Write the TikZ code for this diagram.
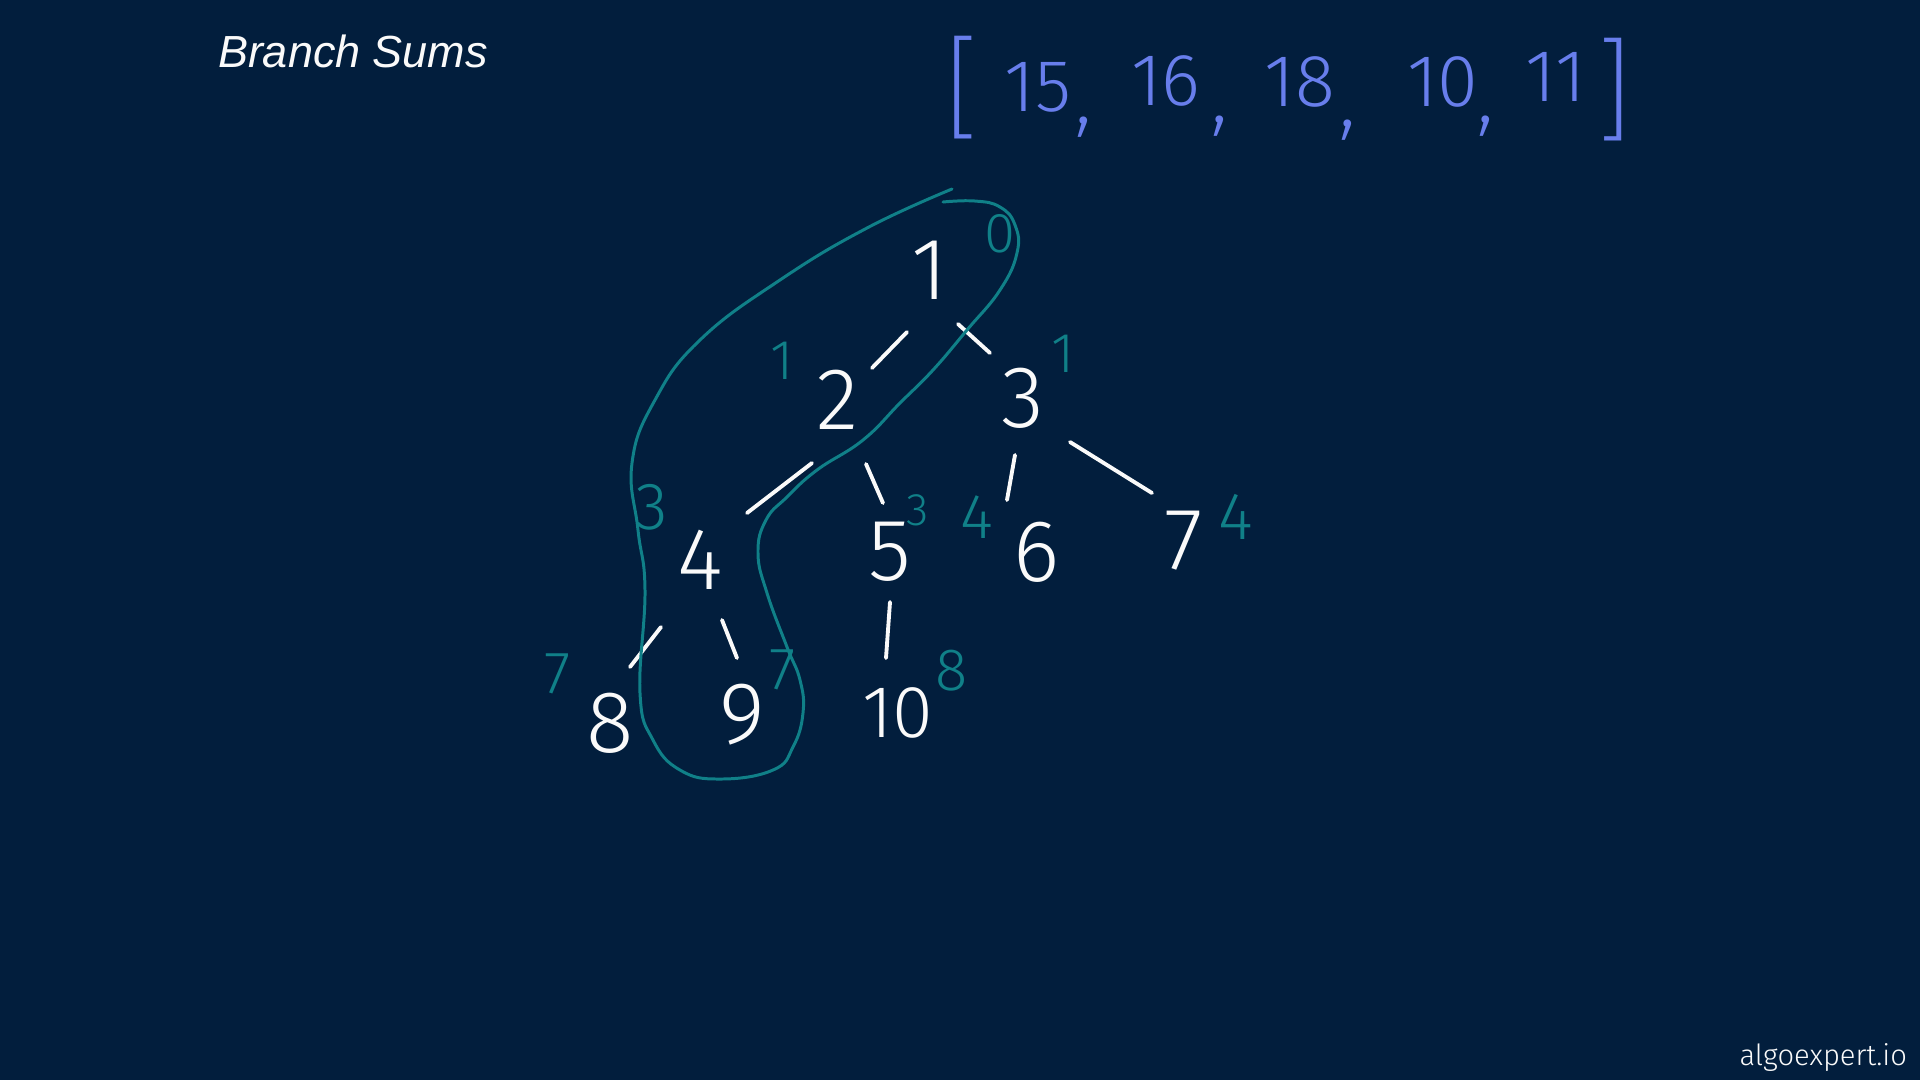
\documentclass[tikz,border=0pt]{standalone}
\usepackage{fontspec}
\setmainfont{Liberation Sans}
\IfFontExistsTF{Fira Sans Light}{\newfontfamily\handL{Fira Sans Light}[Numbers=Proportional]}{\newfontfamily\handL{Fira Sans}[Numbers=Proportional]}
\IfFontExistsTF{Fira Sans ExtraLight}{\newfontfamily\handX{Fira Sans ExtraLight}[Numbers=Proportional]}{\newfontfamily\handX{Fira Sans}[Numbers=Proportional]}
\definecolor{bgnavy}{RGB}{2,30,61}
\definecolor{tealink}{RGB}{16,128,136}
\definecolor{blueink}{RGB}{104,126,236}
\definecolor{whiteink}{RGB}{250,250,250}
\begin{document}
\begin{tikzpicture}[x=0.1mm,y=-0.1mm,
  every node/.style={inner sep=0pt,outer sep=0pt},
  treenum/.style={text=whiteink,font={\handL\fontsize{25pt}{25pt}\selectfont}},
  sumnum/.style={text=tealink,font={\handL\fontsize{16pt}{16pt}\selectfont}},
  listnum/.style={text=blueink,font={\handL\fontsize{21pt}{21pt}\selectfont}},
  listcomma/.style={text=blueink,font={\handX\fontsize{27pt}{27pt}\selectfont}},
  brack/.style={text=blueink,font={\handX\fontsize{32pt}{32pt}\selectfont}},
  edge/.style={draw=whiteink,line width=1.1pt,line cap=round},
  pathloop/.style={draw=tealink,line width=0.85pt,line cap=round,line join=round}]
\fill[bgnavy] (0,0) rectangle (1920,1080);
\useasboundingbox (0,0) rectangle (1920,1080);

% title and logo
\node[anchor=base west,text=whiteink,font={\itshape\fontsize{12.8pt}{12.8pt}\selectfont}] (title) at (218,67) {Branch Sums};
\node[anchor=base east,text=whiteink,font={\handL\fontsize{8.3pt}{8.3pt}\selectfont}] (logo) at (1907,1065) {algoexpert.io};

% result list
\node[brack] (lb) at (962,88) {[};
\node[brack] (rb) at (1614,90) {]};
\node[listnum] (s1) at (1038,87) {15};
\node[listcomma] (c1) at (1084,127) {,};
\node[listnum] (s2) at (1166,81) {16};
\node[listcomma] (c2) at (1220,126) {,};
\node[listnum] (s3) at (1300,82) {18};
\node[listcomma] (c3) at (1348,130) {,};
\node[listnum] (s4) at (1443,82) {10};
\node[listcomma] (c4) at (1486,126) {,};
\node[listnum] (s5) at (1556,77) {11};

% tree nodes
\node[treenum] (n1) at (930,270) {1};
\node[treenum] (n2) at (838,400) {2};
\node[treenum] (n3) at (1023,398) {3};
\node[treenum] (n4) at (700,560) {4};
\node[treenum] (n5) at (890,552) {5};
\node[treenum] (n6) at (1037,552) {6};
\node[treenum] (n7) at (1184,541) {7};
\node[treenum] (n8) at (610,723) {8};
\node[treenum] (n9) at (742,715) {9};
\node[treenum,font={\handL\fontsize{21pt}{21pt}\selectfont}] (n10) at (898,713) {10};

% edges
\draw[edge] ([shift={(-23,62)}]n1.center) -- ([shift={(34,-32)}]n2.center);
\draw[edge] ([shift={(28,54)}]n1.center) -- ([shift={(-33,-45)}]n3.center);
\draw[edge] ([shift={(-26,63)}]n2.center) -- ([shift={(47,-47)}]n4.center);
\draw[edge] ([shift={(28,64)}]n2.center) -- ([shift={(-7,-49)}]n5.center);
\draw[edge] ([shift={(-8,57)}]n3.center) -- ([shift={(-30,-52)}]n6.center);
\draw[edge] ([shift={(47,44)}]n3.center) -- ([shift={(-32,-48)}]n7.center);
\draw[edge] ([shift={(-39,67)}]n4.center) -- ([shift={(20,-56)}]n8.center);
\draw[edge] ([shift={(22,60)}]n4.center) -- ([shift={(-5,-57)}]n9.center);
\draw[edge] ([shift={(0,50)}]n5.center) -- ([shift={(-12,-55)}]n10.center);

% running sums
\node[sumnum] (r1) at (1000,234) {0};
\node[sumnum] (r2) at (782,361) {1};
\node[sumnum] (r3) at (1063,354) {1};
\node[sumnum,font={\handL\fontsize{19pt}{19pt}\selectfont}] (r4) at (652,507) {3};
\node[sumnum,font={\handL\fontsize{13pt}{13pt}\selectfont}] (r5) at (918,510) {3};
\node[sumnum,font={\handL\fontsize{18pt}{18pt}\selectfont}] (r6) at (977,517) {4};
\node[sumnum,font={\handL\fontsize{19pt}{19pt}\selectfont}] (r7) at (1236,517) {4};
\node[sumnum,font={\handL\fontsize{17pt}{17pt}\selectfont}] (r8) at (558,674) {7};
\node[sumnum,font={\handL\fontsize{17pt}{17pt}\selectfont}] (r9) at (783,670) {7};
\node[sumnum,font={\handL\fontsize{17pt}{17pt}\selectfont}] (r10) at (952,671) {8};

% branch 1-2-4-9 enclosed
\draw[pathloop] plot[smooth,tension=0.75] coordinates {
 (952,189) (867,228) (780,280) (700,340) (655,400)
 (632,463) (638,530) (645,590) (640,693) (653,740)
 (680,770) (720,779) (773,770) (793,747) (803,713) (800,680) (787,647)
 (767,593) (758,553) (766,520) (787,497) (817,470) (863,440) (900,403)
 (933,370) (967,330) (1000,290) (1017,253) (1015,225) (1000,207)
 (975,201) (943,202)};
\end{tikzpicture}
\end{document}
